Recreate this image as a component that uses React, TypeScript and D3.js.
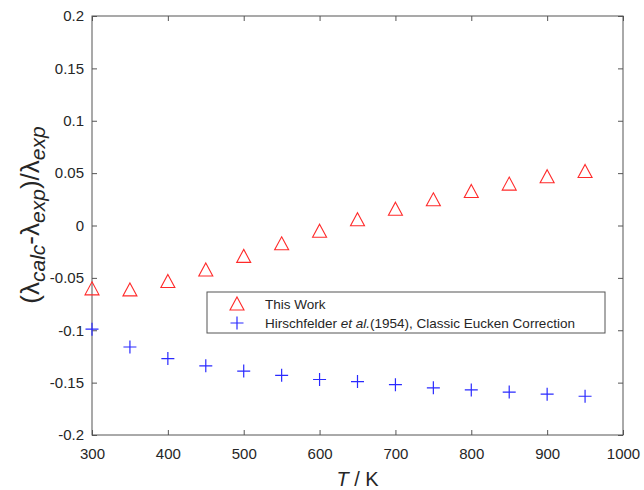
import React, { useEffect, useRef } from 'react';
import * as d3 from 'd3';

const temps = [300, 350, 400, 450, 500, 550, 600, 650, 700, 750, 800, 850, 900, 950];
const thisWork = [-0.060, -0.061, -0.053, -0.042, -0.029, -0.017, -0.005, 0.006, 0.016, 0.025, 0.033, 0.040, 0.047, 0.052];
const hirschfelder = [-0.099, -0.116, -0.127, -0.134, -0.139, -0.143, -0.147, -0.149, -0.152, -0.155, -0.157, -0.159, -0.161, -0.163];
const xTicks = [300, 400, 500, 600, 700, 800, 900, 1000];
const yTicks = [-0.2, -0.15, -0.1, -0.05, 0, 0.05, 0.1, 0.15, 0.2];

const FONT = '"Liberation Sans", Arial, sans-serif';
const AXIS = '#555';
const TEXT = '#262626';

function App() {
  const svgRef = useRef<SVGSVGElement>(null);

  useEffect(() => {
    const W = 644;
    const H = 490;
    const margin = { top: 16, right: 21, bottom: 55, left: 92 };
    const width = W - margin.left - margin.right;
    const height = H - margin.top - margin.bottom;

    const root = d3.select(svgRef.current).attr('width', W).attr('height', H);
    root.selectAll('*').remove();
    root.append('rect').attr('width', W).attr('height', H).attr('fill', '#fff');

    const svg = root.append('g').attr('transform', `translate(${margin.left},${margin.top})`);

    const x = d3.scaleLinear().domain([300, 1000]).range([0, width]);
    const y = d3.scaleLinear().domain([-0.2, 0.2]).range([height, 0]);

    const tickLen = 5;
    const styleAxis = (g: any) => {
      g.select('.domain').remove();
      g.selectAll('line').attr('stroke', AXIS);
      g.selectAll('text').attr('fill', TEXT).style('font-family', FONT).style('font-size', '15px');
    };

    // bottom + top
    svg.append('g')
      .attr('transform', `translate(0,${height})`)
      .call(d3.axisBottom(x).tickValues(xTicks).tickSizeInner(-tickLen).tickSizeOuter(0).tickPadding(13).tickFormat(d3.format('d')))
      .call(styleAxis);
    svg.append('g')
      .call(d3.axisTop(x).tickValues(xTicks).tickSizeInner(-tickLen).tickSizeOuter(0).tickFormat(() => ''))
      .call(styleAxis);
    // left + right
    svg.append('g')
      .call(d3.axisLeft(y).tickValues(yTicks).tickSizeInner(-tickLen).tickSizeOuter(0).tickPadding(8).tickFormat((d: any) => String(+d.toFixed(2))))
      .call(styleAxis);
    svg.append('g')
      .attr('transform', `translate(${width},0)`)
      .call(d3.axisRight(y).tickValues(yTicks).tickSizeInner(-tickLen).tickSizeOuter(0).tickFormat(() => ''))
      .call(styleAxis);

    svg.append('rect')
      .attr('width', width).attr('height', height)
      .attr('fill', 'none').attr('stroke', AXIS).attr('stroke-width', 1);

    const tri = 'M0,-6.5L7,6.5L-7,6.5Z';
    const plus = 'M-6.5,0H6.5M0,-6.5V6.5';

    svg.selectAll('.tw')
      .data(temps)
      .enter()
      .append('path')
      .attr('d', tri)
      .attr('transform', (d, i) => `translate(${x(d)},${y(thisWork[i])})`)
      .attr('fill', 'none')
      .attr('stroke', '#ff2a2a')
      .attr('stroke-width', 1.1);

    svg.selectAll('.hf')
      .data(temps)
      .enter()
      .append('path')
      .attr('d', plus)
      .attr('transform', (d, i) => `translate(${x(d)},${y(hirschfelder[i])})`)
      .attr('fill', 'none')
      .attr('stroke', '#2a2aff')
      .attr('stroke-width', 1.2);

    // legend
    const lg = root.append('g').attr('transform', 'translate(207,292)');
    lg.append('rect').attr('width', 398).attr('height', 41).attr('fill', '#fff').attr('stroke', AXIS).attr('stroke-width', 1);
    lg.append('path').attr('d', tri).attr('transform', 'translate(30,11.5)')
      .attr('fill', 'none').attr('stroke', '#ff2a2a').attr('stroke-width', 1.1);
    lg.append('path').attr('d', plus).attr('transform', 'translate(30,31)')
      .attr('fill', 'none').attr('stroke', '#2a2aff').attr('stroke-width', 1.2);
    const lt = lg.append('text').attr('x', 58).attr('y', 16.5)
      .attr('fill', TEXT).style('font-family', FONT).style('font-size', '13.5px');
    lt.text('This Work');
    const lt2 = lg.append('text').attr('x', 58).attr('y', 36)
      .attr('fill', TEXT).style('font-family', FONT).style('font-size', '13.5px');
    lt2.append('tspan').text('Hirschfelder ');
    lt2.append('tspan').style('font-style', 'italic').text('et al.');
    lt2.append('tspan').text('(1954), Classic Eucken Correction');

    // axis labels
    const xl = root.append('text')
      .attr('x', margin.left + width / 2).attr('y', 486)
      .attr('text-anchor', 'middle').attr('fill', TEXT)
      .style('font-family', FONT).style('font-size', '20px');
    xl.append('tspan').style('font-style', 'italic').text('T');
    xl.append('tspan').text(' / K');

    const yl = root.append('text')
      .attr('transform', `translate(39,215) rotate(-90)`)
      .attr('text-anchor', 'middle').attr('fill', TEXT)
      .style('font-family', FONT).style('font-size', '26px');
    yl.append('tspan').text('(λ');
    yl.append('tspan').attr('dy', 6).style('font-size', '21px').style('font-style', 'italic').text('calc');
    yl.append('tspan').attr('dy', -6).text('-λ');
    yl.append('tspan').attr('dy', 6).style('font-size', '21px').style('font-style', 'italic').text('exp');
    yl.append('tspan').attr('dy', -6).text(')/λ');
    yl.append('tspan').attr('dy', 6).style('font-size', '21px').style('font-style', 'italic').text('exp');
  }, []);

  return <svg ref={svgRef} style={{ position: 'absolute', left: 0, top: 0 }}></svg>;
}

export default App;
